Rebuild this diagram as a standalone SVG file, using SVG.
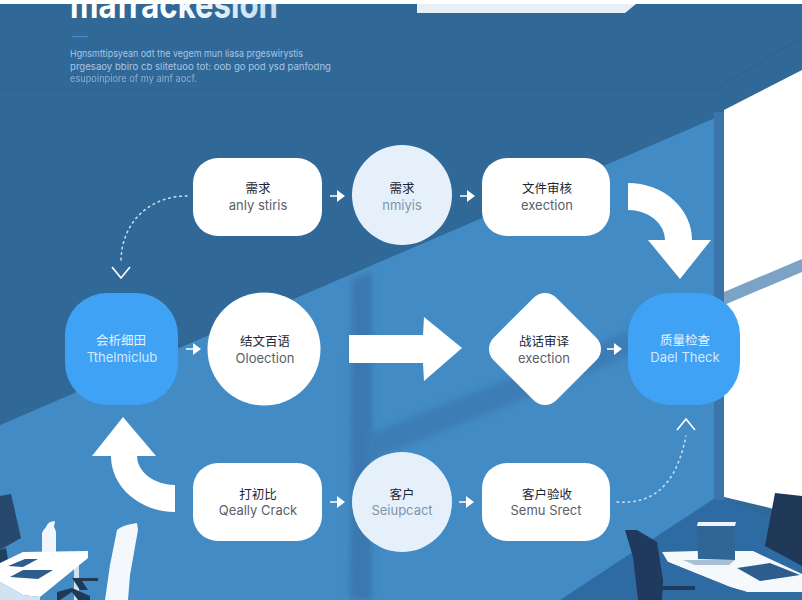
<svg xmlns="http://www.w3.org/2000/svg" width="802" height="600" viewBox="0 0 802 600">
<style>
.card{fill:#fff}
.pale{fill:#e6f0fa}
.blue{fill:#3fa2f4}
.zh{font-family:"Noto Sans CJK SC","Noto Sans",sans-serif;font-size:12.5px;text-anchor:middle;fill:#1c2633}
.en{font-family:"Inter","Liberation Sans",sans-serif;font-size:13px;text-anchor:middle;fill:#5a6068}
.zhw{fill:#e6f3fe}
.enw{fill:#d4eafc}
.enp{fill:#8094ad}
.big{fill:#fff}
.small{fill:none;stroke:#fff;stroke-width:1.6}
.head{fill:#fff}
.dots{fill:none;stroke:#cfe2f2;stroke-width:1.5;stroke-dasharray:1.6 4;stroke-linecap:round}
.chev{fill:none;stroke:#fff;stroke-width:1.6}
.para{font-family:"Inter","Liberation Sans",sans-serif;font-size:9.5px;fill:#a8c6e2}
</style>
<defs>
<filter id="soft" x="-30%" y="-30%" width="160%" height="160%"><feGaussianBlur stdDeviation="3"/></filter>
<linearGradient id="tg" x1="0" x2="1" y1="0" y2="0"><stop offset="0.45" stop-color="#ffffff"/><stop offset="1" stop-color="#c4dcf1"/></linearGradient>
</defs>

<rect width="802" height="600" fill="#306898"/>
<path d="M0,90H715L802,37" fill="none" stroke="#2d6393" stroke-width="1.2"/>
<polygon points="0,425 715,118 715,600 0,600" fill="#428bc4"/>
<polygon points="560,600 715,498 724,498 775,520 802,530 802,600" fill="#2f6ba3"/>
<polygon points="352,280 372,272 372,600 350,600" fill="#3b78af" filter="url(#soft)"/>
<polygon points="366,435 640,327 640,352 366,462" fill="#3c7db5" filter="url(#soft)"/>
<rect x="714" y="112" width="10" height="388" fill="#3a74aa"/>
<polygon points="724,110 802,70 802,520 770,508 724,497" fill="#fff"/>
<polygon points="724,292 802,259 802,272 724,305" fill="#7ba3c6"/>
<polygon points="417,4 636,4 625,13 417,13" fill="#e8eff6"/>

<text x="70" y="18" font-family="Inter,'Liberation Sans',sans-serif" font-size="38" font-weight="700" fill="url(#tg)" textLength="208" lengthAdjust="spacingAndGlyphs">mafrackesion</text>
<rect width="802" height="4" fill="#fff"/>
<rect x="72" y="36" width="16" height="1.2" fill="#3d8fd8"/>
<text class="para" x="70" y="57" textLength="233" lengthAdjust="spacingAndGlyphs">Hgnsmttipsyean odt the vegem mun liasa prgeswirystis</text>
<text class="para" x="70" y="70" textLength="261" lengthAdjust="spacingAndGlyphs">prgesaoy bbiro cb slitetuoo tot: oob go pod ysd panfodng</text>
<text class="para" x="70" y="82" textLength="127" lengthAdjust="spacingAndGlyphs" opacity="0.75">esupoinpiore of my alnf aocf.</text>

<g id="furniture-left">
<polygon points="0,496 11,494 21,538 0,550" fill="#27496e"/>
<polygon points="0,550 6,548 8,560 0,564" fill="#1f3f60"/>
<rect x="74" y="556" width="5" height="44" fill="#cfe0f0"/>
<polygon points="0,563 23,552 88,551 88,558 40,597 23,595 0,582" fill="#fff"/>
<polygon points="0,582 23,595 40,597 40,600 0,600" fill="#d3e2f0"/>
<polygon points="8,566 25,559 38,559 23,567" fill="#2c5d8e"/>
<polygon points="10,577 23,570 53,570 38,579" fill="#2c5d8e"/>
<path d="M42,552 L42,533 Q44,529 46,527 Q48,521 55,521 L54,527 Q56,530 56,533 L56,552Z" fill="#f0f6fb"/>
<path d="M72,578 H98 V581 H82 L88,590 L80,590 L74,581Z" fill="#1f3a58"/>
<path d="M57,592 L72,588 L90,596 L90,600 L78,600 L72,592 L60,600 H57Z" fill="#1f3a58"/>
<path d="M117,530 Q122,525 137,523 L138,530 L130,575 L128,600 L105,600 L110,565Z" fill="#f4f8fc"/>
</g>

<g id="furniture-right">
<polygon points="775,493 802,496 802,566 765,546" fill="#1f3857"/>
<polygon points="662,552 697,551 753,551 802,574 802,592 747,592 730,587 668,562" fill="#f6f9fc"/>
<polygon points="668,562 730,587 747,592 802,592 802,600 690,600 668,570" fill="#2f6ba3"/>
<polygon points="683,560 735,560 729,565 695,565" fill="#a9bfd3"/>
<polygon points="697,526 735,526 735,560 698,559" fill="#2f6597"/>
<polygon points="698,522 736,522 735,526 697,526" fill="#eef4fa"/>
<polygon points="737,568 770,563 800,575 760,581" fill="#2c5d8e"/>
<path d="M625,530 L637,530 L657,542 L663,580 L662,600 L638,600 L633,557Z" fill="#1f3a5c"/>
<path d="M660,586 H695 V590 H660Z" fill="#1f3a5c"/>
</g>

<g id="connectors">
<path class="dots" d="M187,196 C150,196 121,222 121,262"/>
<path class="chev" d="M112,267 L121,278 L130,267"/>
<path class="dots" d="M617,502 C650,504 675,490 686,436"/>
<path class="chev" d="M677,430 L686,419 L695,430"/>
<path class="big" d="M628,183 A64,57 0 0 1 692,240 L711,240 L680,279 L648,240 L665,240 A37,30 0 0 0 628,210Z"/>
<path class="big" d="M123,417 L156,456 L137,456 A38,29 0 0 0 175,485 L175,512 A64,56 0 0 1 111,456 L92,456Z"/>
<polygon class="big" points="349,335 423,335 424,317 462,348 424,381 423,363 349,363"/>
<path class="small" d="M330,196H338M460,196H468M186,349H194M607,349H615M330,502H338M459,502H467"/>
<path class="head" d="M337,190L345,196L337,202ZM467,190L475,196L467,202ZM193,343L201,349L193,355ZM614,343L622,349L614,355ZM337,496L345,502L337,508ZM466,496L474,502L466,508Z"/>
</g>

<g id="node-r1"><rect class="card" x="193" y="158" width="129" height="78" rx="25"/><text class="zh" x="258" y="193">需求</text><text class="en" x="258" y="210">anly stiris</text></g>
<g id="node-c1"><circle class="pale" cx="402" cy="195" r="50"/><text class="zh" x="402" y="193">需求</text><text class="en enp" x="402" y="210">nmiyis</text></g>
<g id="node-r2"><rect class="card" x="482" y="158" width="128" height="78" rx="25"/><text class="zh" x="547" y="193">文件审核</text><text class="en" x="547" y="210">exection</text></g>

<g id="node-b1"><rect class="blue" x="65" y="293" width="113" height="112" rx="42"/><text class="zh zhw" x="121" y="345">会析细田</text><text class="en enw" x="122" y="362">Tthelmiclub</text></g>
<g id="node-c2"><circle class="card" cx="264" cy="349" r="56.500"/><text class="zh" x="265" y="346">结文百语</text><text class="en" x="265" y="363">Oloection</text></g>
<g id="node-d"><polygon class="card" points="545,309 585,349 545,389 505,349" stroke="#fff" stroke-width="32" stroke-linejoin="round"/><text class="zh" x="544" y="346">战话审译</text><text class="en" x="544" y="363">exection</text></g>
<g id="node-b2"><rect class="blue" x="628" y="293" width="112" height="112" rx="42"/><text class="zh zhw" x="685" y="345">质量检查</text><text class="en enw" x="685" y="362">Dael Theck</text></g>

<g id="node-r3"><rect class="card" x="193" y="463" width="129" height="78" rx="25"/><text class="zh" x="258" y="499">打初比</text><text class="en" x="258" y="515">Qeally Crack</text></g>
<g id="node-c3"><circle class="pale" cx="402" cy="502" r="50"/><text class="zh" x="402" y="499">客户</text><text class="en enp" x="402" y="515">Seiupcact</text></g>
<g id="node-r4"><rect class="card" x="482" y="463" width="128" height="78" rx="25"/><text class="zh" x="547" y="499">客户验收</text><text class="en" x="546" y="515">Semu Srect</text></g>
</svg>
